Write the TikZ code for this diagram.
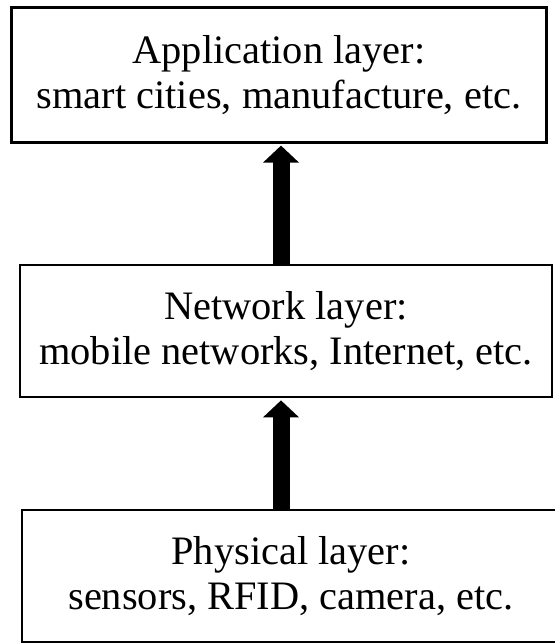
\documentclass[tikz,border=0pt]{standalone}
\usepackage{fontspec}
\setmainfont{Liberation Serif}
\usetikzlibrary{arrows.meta}
\tikzset{
  layer/.style={draw=black, line width=1.35pt, fill=white, align=center, inner sep=0pt,
    font=\fontsize{20.2}{22.5}\selectfont},
  uparrow/.style={-{Triangle[width=17.5pt, length=8.5pt]}, line width=8.5pt, draw=black, shorten >=1pt},
}
\begin{document}
\begin{tikzpicture}[x=0.5pt, y=-0.5pt]  % 1 unit = 1 px of the 555 x 643 frame
  \useasboundingbox (0,0) rectangle (555,643);
  % three stacked layers
  \node[layer, minimum width=267.5pt, minimum height=67.25pt] (app) at (279,75)
    {Application layer:\\ smart cities, manufacture, etc.};
  \node[layer, minimum width=266pt, minimum height=66pt] (net) at (286,331)
    {Network layer:\\ mobile networks, Internet, etc.};
  \node[layer, minimum width=269pt, minimum height=66pt] (phys) at (291,576)
    {Physical layer:\\ sensors, RFID, camera, etc.};
  % data flows upward
  \draw[uparrow] ([xshift=1pt]net.north -| app.south) -- ([xshift=1pt]app.south);
  \draw[uparrow] ([xshift=1pt]phys.north -| app.south) -- ([xshift=1pt]net.south -| app.south);
\end{tikzpicture}
\end{document}
